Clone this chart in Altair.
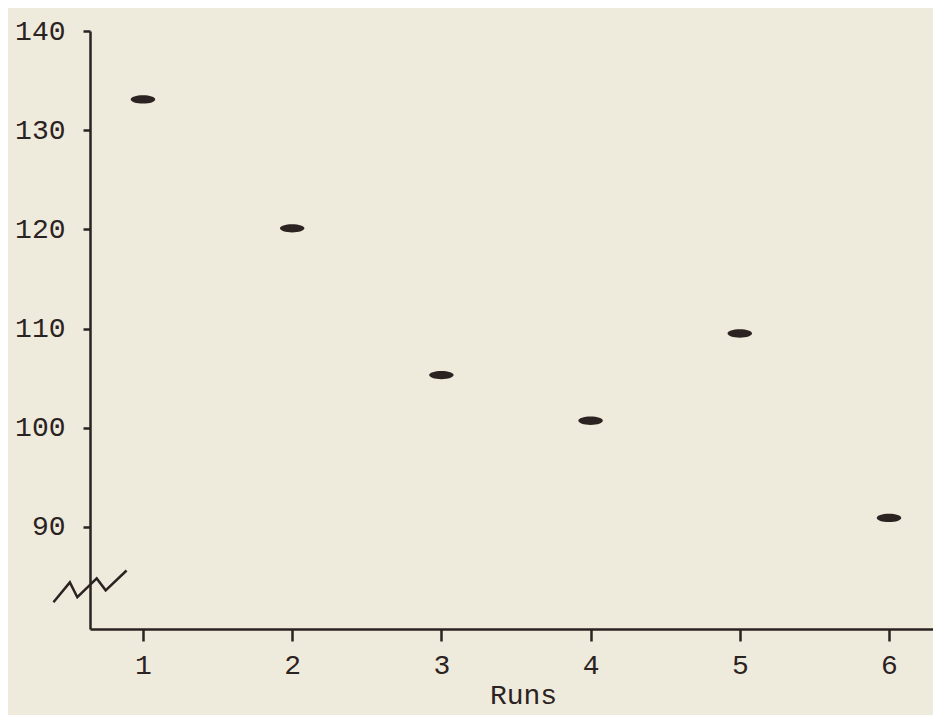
import altair as alt
import pandas as pd

# Data
runs = [1, 2, 3, 4, 5, 6]
values = [133.1, 120.1, 105.3, 100.7, 109.5, 90.9]
x_ticks = [1, 2, 3, 4, 5, 6]
y_ticks = [90, 100, 110, 120, 130, 140]
# axis-break zigzag (in data units)
break_x = [0.40, 0.51, 0.56, 0.69, 0.75, 0.89]
break_y = [82.4, 84.4, 82.9, 84.8, 83.6, 85.6]

ink = "#2b2222"
paper = "#efebdc"
font = "Liberation Mono"

df = pd.DataFrame({"Runs": runs, "Value": values})
brk = pd.DataFrame({"Runs": break_x, "Value": break_y, "k": list(range(len(break_x)))})

xscale = alt.Scale(domain=[0.645, 6.295], nice=False, zero=False)
yscale = alt.Scale(domain=[79.7, 140], nice=False, zero=False)

xaxis = alt.Axis(
    values=x_ticks, title="Runs", grid=False, domainColor=ink, domainWidth=2.5,
    tickColor=ink, tickWidth=2.5, tickSize=12, labelPadding=10,
    labelFont=font, labelFontSize=28, labelColor=ink, labelFontWeight="normal",
    titleFont=font, titleFontSize=28, titleColor=ink, titleFontWeight="normal",
    titlePadding=2, titleX=433, titleAlign="center")
yaxis = alt.Axis(
    values=y_ticks, title=None, grid=False, domainColor=ink, domainWidth=2.5,
    tickColor=ink, tickWidth=2.5, tickSize=7, labelPadding=18,
    labelFont=font, labelFontSize=28, labelColor=ink, labelFontWeight="normal")

blob = "M -1 0 A 1 0.34 0 1 0 1 0 A 1 0.34 0 1 0 -1 0 Z"

points = alt.Chart(df).mark_point(
    filled=True, shape=blob, size=600, color=ink, opacity=1
).encode(
    x=alt.X("Runs:Q", scale=xscale, axis=xaxis),
    y=alt.Y("Value:Q", scale=yscale, axis=yaxis),
)

brk_line = alt.Chart(brk).mark_line(color=ink, strokeWidth=2.5, clip=False).encode(
    x=alt.X("Runs:Q", scale=xscale, axis=xaxis),
    y=alt.Y("Value:Q", scale=yscale, axis=yaxis),
    order="k:O",
)

chart = alt.layer(points, brk_line).properties(
    width=843, height=598,
    padding={"left": 82, "top": 23, "right": 0, "bottom": 86},
    autosize=alt.AutoSizeParams(type="none"),
    background=paper,
).configure_view(stroke=None)

chart.save("out.html", embed_options={"renderer": "svg", "actions": False})
